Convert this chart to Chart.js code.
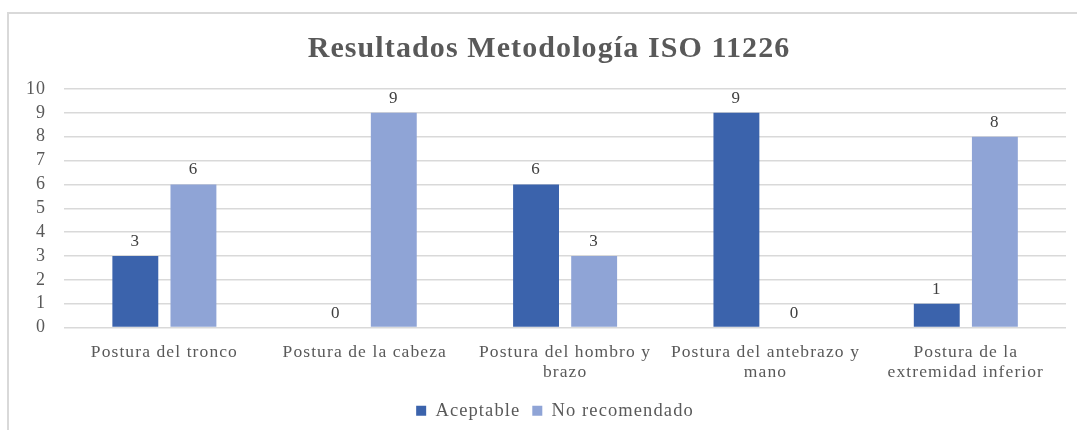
<!DOCTYPE html>
<html>
<head>
<meta charset="utf-8">
<script src="https://cdn.jsdelivr.net/npm/chart.js@4.4.1/dist/chart.umd.min.js"></script>
<style>
body{margin:0;background:#fff;}
#wrap{position:absolute;left:0;top:0;width:1077px;height:430px;}
#frame{position:absolute;left:7px;top:12px;width:1080px;height:430px;border-left:2px solid #d9d9d9;border-top:2px solid #d9d9d9;}
</style>
</head>
<body>
<div id="frame"></div>
<div id="wrap"><canvas id="graph" width="1077" height="430"></canvas></div>
<script>
/* DATA */
const categories=[
["Postura del tronco"],
["Postura de la cabeza"],
["Postura del hombro y","brazo"],
["Postura del antebrazo y","mano"],
["Postura de la","extremidad inferior"]
];
const aceptable=[3,0,6,9,1];
const noRecomendado=[6,9,3,0,8];
const yTicks=[0,1,2,3,4,5,6,7,8,9,10];

const textColor="#595959";
const serif="'Liberation Serif','Times New Roman',serif";

/* WIDER LETTER SPACING (the original text is spaced out) */
const spacing={
id:"spacing",
beforeInit(chart){chart.ctx.letterSpacing="1.1px";},
beforeUpdate(chart){chart.ctx.letterSpacing="1.1px";},
beforeDraw(chart){chart.ctx.letterSpacing="1.1px";},
afterLayout(chart){
/* title and legend sit a bit right of the canvas centre in the original */
chart.titleBlock.left+=24;
chart.legend.left+=36;
}
};

/* VALUE LABELS */
const valueLabels={
id:"valueLabels",
afterDatasetsDraw(chart){
const c=chart.ctx;
c.save();
c.font="17px "+serif;
c.fillStyle="#404040";
c.textAlign="center";
c.textBaseline="alphabetic";
chart.data.datasets.forEach((ds,i)=>{
const meta=chart.getDatasetMeta(i);
meta.data.forEach((bar,j)=>{
c.fillText(String(ds.data[j]),bar.x,bar.y-10);
});
});
c.restore();
}
};

const ctx=document.getElementById("graph");

new Chart(ctx,{
type:"bar",
data:{
labels:categories,
datasets:[
{label:"Aceptable",data:aceptable,backgroundColor:"#3b63ac",categoryPercentage:0.58,barPercentage:0.79},
{label:"No recomendado",data:noRecomendado,backgroundColor:"#8fa4d6",categoryPercentage:0.58,barPercentage:0.79}
]
},
options:{
responsive:false,
animation:false,
devicePixelRatio:1,
layout:{padding:{left:8,right:11,top:31,bottom:0}},
plugins:{
title:{display:true,text:"Resultados Metodología ISO 11226",color:textColor,
font:{family:serif,size:30,weight:"bold"},padding:{top:0,bottom:22}},
legend:{position:"bottom",labels:{color:textColor,font:{family:serif,size:18.5},
boxWidth:10,boxHeight:10,padding:12}},
tooltip:{enabled:false}
},
scales:{
x:{
grid:{display:false},
border:{display:false},
ticks:{color:textColor,font:{family:serif,size:17.5,lineHeight:1.14},maxRotation:0,autoSkip:false,padding:7}
},
y:{
min:0,max:10,
afterBuildTicks(axis){axis.ticks=yTicks.map(v=>({value:v}));},
grid:{color:"#d9d9d9",lineWidth:1.5,drawTicks:false},
border:{display:false},
ticks:{color:textColor,font:{family:serif,size:18},padding:18,autoSkip:false}
}
}
},
plugins:[spacing,valueLabels]
});
</script>
</body>
</html>
